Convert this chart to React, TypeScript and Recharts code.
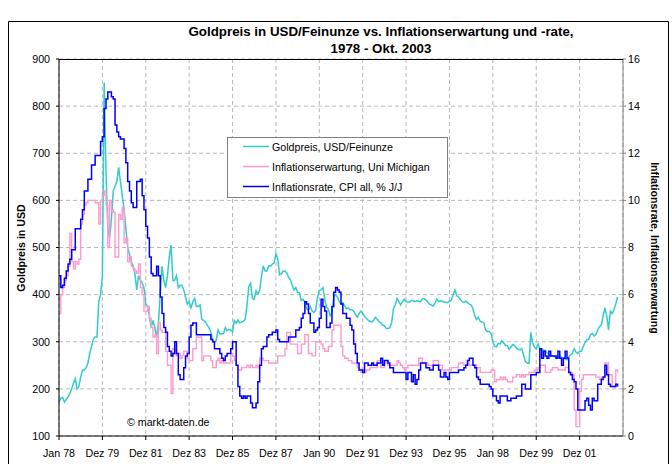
import React from 'react';
import { LineChart, Line, XAxis, YAxis, CartesianGrid } from 'recharts';

// Monthly values, Jan 1978 .. Oct 2003 (310 months)
const goldPrice = [
  172, 180, 182, 172, 178, 183, 190, 200, 212, 222, 200, 205,
  225, 240, 240, 245, 255, 275, 290, 305, 310, 310, 385, 400,
  440, 850, 660, 540, 520, 560, 620, 630, 640, 670, 640, 610,
  580, 540, 500, 485, 470, 460, 445, 410, 440, 430, 425, 415,
  380, 375, 355, 330, 345, 330, 308, 340, 400, 460, 430, 415,
  440, 480, 505, 430, 430, 440, 415, 420, 420, 410, 395, 380,
  385, 372, 385, 392, 375, 375, 378, 348, 345, 342, 335, 330,
  320, 303, 298, 304, 325, 317, 317, 317, 330, 324, 326, 325,
  321, 345, 339, 346, 340, 342, 343, 348, 377, 418, 424, 392,
  390, 408, 401, 409, 438, 461, 450, 450, 461, 460, 465, 467,
  487, 477, 442, 444, 450, 450, 446, 437, 432, 420, 410, 415,
  405, 404, 388, 390, 384, 371, 367, 375, 365, 362, 367, 394,
  409, 410, 415, 390, 374, 369, 355, 362, 395, 400, 395, 385,
  380, 383, 376, 370, 372, 368, 368, 365, 358, 352, 360, 365,
  360, 354, 350, 346, 343, 342, 345, 352, 348, 343, 340, 335,
  334, 328, 328, 330, 340, 370, 378, 392, 385, 378, 385, 390,
  385, 385, 384, 388, 387, 385, 387, 386, 385, 391, 391, 389,
  384, 380, 378, 376, 382, 391, 385, 387, 386, 384, 384, 383,
  386, 388, 400, 410, 398, 395, 390, 385, 384, 386, 383, 380,
  378, 370, 355, 347, 352, 343, 342, 340, 325, 322, 322, 318,
  300, 290, 289, 297, 295, 302, 298, 292, 292, 284, 289, 294,
  292, 287, 284, 283, 285, 272, 258, 255, 254, 320, 298, 288,
  285, 295, 284, 283, 282, 282, 276, 274, 270, 270, 268, 266,
  268, 272, 266, 265, 264, 262, 268, 272, 275, 285, 278, 275,
  280, 280, 290, 298, 305, 305, 315, 318, 312, 316, 325, 332,
  335, 355, 372, 355, 325, 365, 360, 368, 380, 395,
];

const inflationExpectation = [
  5.2, 6.0, 6.3, 6.6, 6.8, 7.2, 8.6, 7.4, 7.1, 7.4, 7.3, 7.5,
  9.0, 9.4, 9.8, 9.9, 10.0, 10.0, 10.0, 10.0, 9.9, 9.9, 9.0, 10.0,
  10.2, 10.4, 9.8, 8.0, 10.0, 9.6, 9.5, 7.6, 7.6, 9.4, 9.2, 9.7,
  8.2, 8.4, 7.4, 7.6, 7.2, 7.1, 7.0, 6.9, 7.3, 6.3, 6.0, 5.3,
  5.3, 5.5, 5.0, 4.6, 4.2, 4.3, 3.5, 4.8, 4.5, 4.4, 4.4, 3.6,
  3.0, 3.0, 1.8, 3.7, 3.6, 3.4, 3.5, 3.3, 3.4, 3.6, 3.6, 3.3,
  3.2, 3.2, 3.7, 3.7, 4.2, 4.2, 4.2, 3.2, 3.4, 3.4, 3.4, 3.4,
  3.2, 2.9, 2.9, 3.2, 3.3, 3.1, 3.2, 3.1, 3.1, 3.1, 3.1, 3.5,
  3.4, 3.2, 3.0, 2.8, 2.8, 2.9, 2.9, 2.9, 3.0, 2.9, 3.0, 2.9,
  2.9, 3.0, 2.9, 3.3, 3.3, 3.2, 3.2, 3.2, 3.1, 3.1, 3.1, 3.1,
  3.1, 3.4, 3.4, 3.4, 3.4, 3.7, 4.4, 4.4, 3.9, 3.9, 3.9, 3.9,
  3.5, 3.5, 3.9, 3.9, 4.3, 4.3, 3.5, 3.5, 3.4, 3.4, 4.0, 4.0,
  4.0, 3.9, 3.7, 3.6, 3.6, 3.8, 3.8, 4.5, 4.7, 4.7, 4.7, 4.7,
  3.8, 3.4, 3.3, 3.3, 3.2, 3.2, 3.1, 3.1, 3.1, 2.9, 2.8, 2.7,
  2.7, 2.7, 2.8, 2.8, 2.9, 2.9, 2.9, 2.9, 3.2, 3.2, 2.9, 2.9,
  3.1, 3.1, 3.0, 3.0, 3.0, 3.0, 3.0, 3.2, 3.1, 3.0, 2.9, 2.8,
  2.9, 3.0, 3.0, 3.0, 3.0, 3.0, 3.0, 3.3, 3.3, 3.1, 3.1, 3.1,
  3.0, 3.0, 3.0, 3.2, 3.2, 3.2, 3.0, 3.0, 2.8, 2.8, 2.8, 2.8,
  2.8, 2.9, 2.9, 2.9, 2.9, 3.1, 3.1, 3.1, 3.0, 3.0, 3.1, 3.0,
  3.0, 3.0, 3.0, 2.9, 2.9, 2.7, 2.7, 2.7, 2.7, 2.7, 2.7, 2.8,
  2.8, 2.3, 2.4, 2.4, 2.5, 2.4, 2.5, 2.4, 2.3, 2.3, 2.3, 2.5,
  2.5, 2.6, 2.6, 2.5, 2.6, 2.5, 2.6, 2.6, 2.7, 2.7, 2.7, 2.8,
  2.8, 2.9, 3.0, 3.0, 3.0, 2.7, 2.7, 2.7, 2.8, 2.9, 2.9, 2.9,
  2.8, 2.8, 2.8, 2.8, 2.9, 2.9, 2.7, 2.7, 2.6, 1.1, 0.4, 0.4,
  1.9, 2.4, 2.6, 2.6, 2.6, 2.6, 2.6, 2.6, 2.6, 2.5, 2.5, 2.4,
  2.5, 2.5, 3.1, 3.1, 2.6, 2.6, 2.1, 2.1, 2.8, 2.7,
];

const inflationRate = [
  6.8, 6.3, 6.4, 6.7, 7.0, 7.3, 7.5, 7.9, 7.9, 8.8, 8.8, 8.8,
  9.2, 9.6, 10.4, 10.4, 10.9, 10.9, 11.5, 11.5, 11.9, 11.9, 11.9, 12.5,
  12.7, 13.9, 14.3, 14.6, 14.6, 14.4, 14.3, 13.2, 12.9, 12.7, 12.6, 12.6,
  12.2, 11.6, 10.8, 10.4, 9.9, 9.7, 9.7, 10.8, 10.8, 10.9, 10.2, 9.6,
  8.9, 8.4, 7.6, 6.9, 6.8, 6.8, 7.2, 6.8, 5.9, 5.2, 4.6, 4.4,
  3.8, 3.6, 3.4, 3.5, 4.0, 3.5, 2.6, 2.4, 2.4, 2.9, 3.4, 3.5,
  4.2, 4.7, 4.8, 4.8, 4.3, 4.3, 4.3, 4.3, 4.3, 4.3, 4.3, 4.3,
  4.1, 4.0, 3.7, 3.7, 3.7, 3.5, 3.3, 3.2, 3.4, 3.5, 3.5, 3.7,
  4.0, 4.0, 3.0, 2.1, 1.7, 1.6, 1.7, 1.6, 1.7, 1.7, 1.4, 1.2,
  1.2, 1.4, 2.3, 3.0, 3.7, 3.8, 3.8, 4.2, 4.3, 4.3, 4.4, 4.4,
  4.5, 4.1, 4.0, 4.0, 4.0, 4.0, 4.0, 4.2, 4.2, 4.2, 4.2, 4.5,
  4.5, 4.6, 5.0, 5.2, 5.7, 5.6, 5.2, 4.8, 4.8, 4.4, 4.5, 4.6,
  5.0, 5.8, 5.5, 5.3, 4.6, 4.6, 4.8, 5.5, 6.1, 6.3, 6.2, 6.1,
  5.6, 5.2, 5.2, 5.0, 5.0, 4.7, 4.5, 3.9, 3.5, 3.1, 2.8, 2.8,
  2.7, 3.1, 3.1, 3.0, 3.0, 3.1, 3.0, 3.0, 3.1, 3.1, 3.3, 3.0,
  3.2, 3.2, 3.1, 2.9, 2.9, 2.7, 2.7, 2.7, 2.7, 2.7, 2.7, 2.7,
  2.4, 2.7, 2.7, 2.3, 2.6, 2.2, 2.4, 2.8, 3.1, 3.1, 3.1, 2.9,
  2.9, 2.8, 2.8, 3.0, 3.0, 3.0, 2.8, 2.5, 2.5, 2.7, 2.5, 2.4,
  2.7, 2.7, 2.7, 2.7, 2.7, 2.8, 2.8, 2.8, 2.9, 3.0, 3.2, 3.3,
  3.3, 3.0, 2.9, 2.5, 2.4, 2.2, 2.2, 2.2, 2.2, 2.2, 2.1, 2.0,
  1.7, 1.7, 1.5, 1.4, 1.7, 1.7, 1.7, 1.7, 1.5, 1.5, 1.6, 1.6,
  1.6, 1.7, 1.7, 1.7, 2.2, 2.2, 2.0, 2.0, 2.0, 2.6, 2.6, 2.6,
  2.7, 2.7, 3.7, 3.3, 3.6, 3.4, 3.3, 3.6, 3.4, 3.4, 3.4, 3.3,
  3.6, 3.3, 3.0, 3.3, 3.6, 3.3, 2.7, 2.6, 2.4, 2.3, 2.0, 1.1,
  1.1, 1.1, 1.1, 1.5, 1.6, 1.3, 1.1, 1.6, 1.5, 1.5, 2.2, 2.2,
  2.4, 2.5, 3.0, 2.6, 2.2, 2.1, 2.1, 2.1, 2.2, 2.1,
];

const xTickLabels = [
  'Jan 78', 'Dez 79', 'Dez 81', 'Dez 83', 'Dez 85', 'Dez 87', 'Jan 90',
  'Dez 91', 'Dez 93', 'Dez 95', 'Jan 98', 'Dez 99', 'Dez 01',
];
const monthsPerTick = 24;
const leftTicks = [100, 200, 300, 400, 500, 600, 700, 800, 900];
const rightTicks = [0, 2, 4, 6, 8, 10, 12, 14, 16];

const seriesNames = {
  gold: 'Goldpreis, USD/Feinunze',
  expect: 'Inflationserwartung, Uni Michigan',
  cpi: 'Inflationsrate, CPI all, % J/J',
};
const colors = { gold: '#33CCCC', expect: '#FF99CC', cpi: '#0000FF' };

const rows = goldPrice.map((g, i) => ({
  i,
  gold: g,
  expect: inflationExpectation[i],
  cpi: inflationRate[i],
}));

const FONT = '"Liberation Sans", Arial, Helvetica, sans-serif';
const tickStyle = { fontSize: 10.67, fill: '#000', fontFamily: FONT };

export default function App() {
  const xTicks = xTickLabels.map((_, j) => j * monthsPerTick);
  const legendItems: Array<keyof typeof seriesNames> = ['gold', 'expect', 'cpi'];
  return (
    <div style={{ position: 'absolute', left: 0, top: 0, width: 672, height: 464, background: '#fff', fontFamily: FONT }}>
      <LineChart
        width={672}
        height={464}
        data={rows}
        margin={{ top: 59, right: 9, bottom: 3, left: 9 }}
      >
        <CartesianGrid yAxisId="left" stroke="#b8b8b8" strokeDasharray="4 3" />
        <XAxis
          dataKey="i"
          type="number"
          domain={[0, 312]}
          ticks={xTicks}
          interval={0}
          tickFormatter={(v: number) => xTickLabels[Math.round(v / monthsPerTick)]}
          height={25}
          tick={tickStyle}
          tickSize={4}
          tickMargin={9}
          axisLine={{ stroke: '#000' }}
          tickLine={{ stroke: '#000' }}
          allowDecimals={false}
        />
        <YAxis
          yAxisId="left"
          domain={[100, 900]}
          ticks={leftTicks}
          interval={0}
          width={50}
          tick={tickStyle}
          tickSize={3}
          tickMargin={6}
          axisLine={{ stroke: '#000' }}
          tickLine={{ stroke: '#000' }}
        />
        <YAxis
          yAxisId="right"
          orientation="right"
          domain={[0, 16]}
          ticks={rightTicks}
          interval={0}
          width={40}
          tick={tickStyle}
          tickSize={3}
          tickMargin={2}
          axisLine={{ stroke: '#808080' }}
          tickLine={{ stroke: '#808080' }}
        />
        <Line
          yAxisId="left"
          dataKey="gold"
          type="linear"
          stroke={colors.gold}
          strokeWidth={1.5}
          dot={false}
          isAnimationActive={false}
        />
        <Line
          yAxisId="right"
          dataKey="expect"
          type="stepAfter"
          stroke={colors.expect}
          strokeWidth={1.4}
          dot={false}
          isAnimationActive={false}
        />
        <Line
          yAxisId="right"
          dataKey="cpi"
          type="stepAfter"
          stroke={colors.cpi}
          strokeWidth={1.5}
          dot={false}
          isAnimationActive={false}
        />
      </LineChart>
      <svg
        width={672}
        height={464}
        style={{ position: 'absolute', left: 0, top: 0, pointerEvents: 'none' }}
      >
        <path d="M8.5,470 V21.5 H668.5 V470" fill="none" stroke="#000" strokeWidth={1} />
        <line x1={59} y1={59.5} x2={623} y2={59.5} stroke="#000" strokeWidth={1} />
        <text x={381} y={36} textAnchor="middle" fontFamily={FONT} fontWeight="bold" fontSize={13.33} fill="#000">
          Goldpreis in USD/Feinunze vs. Inflationserwartung und -rate,
        </text>
        <text x={381} y={53} textAnchor="middle" fontFamily={FONT} fontWeight="bold" fontSize={13.33} fill="#000">
          1978 - Okt. 2003
        </text>
        <text
          x={21}
          y={248}
          transform="rotate(-90 21 248)"
          textAnchor="middle"
          dominantBaseline="central"
          fontFamily={FONT}
          fontWeight="bold"
          fontSize={10.67}
          fill="#000"
        >
          Goldpreis in USD
        </text>
        <text
          x={655}
          y={248}
          transform="rotate(90 655 248)"
          textAnchor="middle"
          dominantBaseline="central"
          fontFamily={FONT}
          fontWeight="bold"
          fontSize={10.67}
          fill="#000"
        >
          Inflationsrate, Inflationserwartung
        </text>
        <text x={127} y={426} fontFamily={FONT} fontSize={10.67} fill="#000">
          © markt-daten.de
        </text>
        <rect x={227.5} y={137.5} width={220} height={60} fill="#fff" stroke="#808080" strokeWidth={1} />
        {legendItems.map((k, n) => {
          const y = 146.5 + n * 20;
          return (
            <g key={k}>
              <line x1={243} y1={y} x2={269} y2={y} stroke={colors[k]} strokeWidth={1.5} />
              <text x={272} y={y} dominantBaseline="central" fontFamily={FONT} fontSize={10.67} fill="#000">
                {seriesNames[k]}
              </text>
            </g>
          );
        })}
      </svg>
    </div>
  );
}
